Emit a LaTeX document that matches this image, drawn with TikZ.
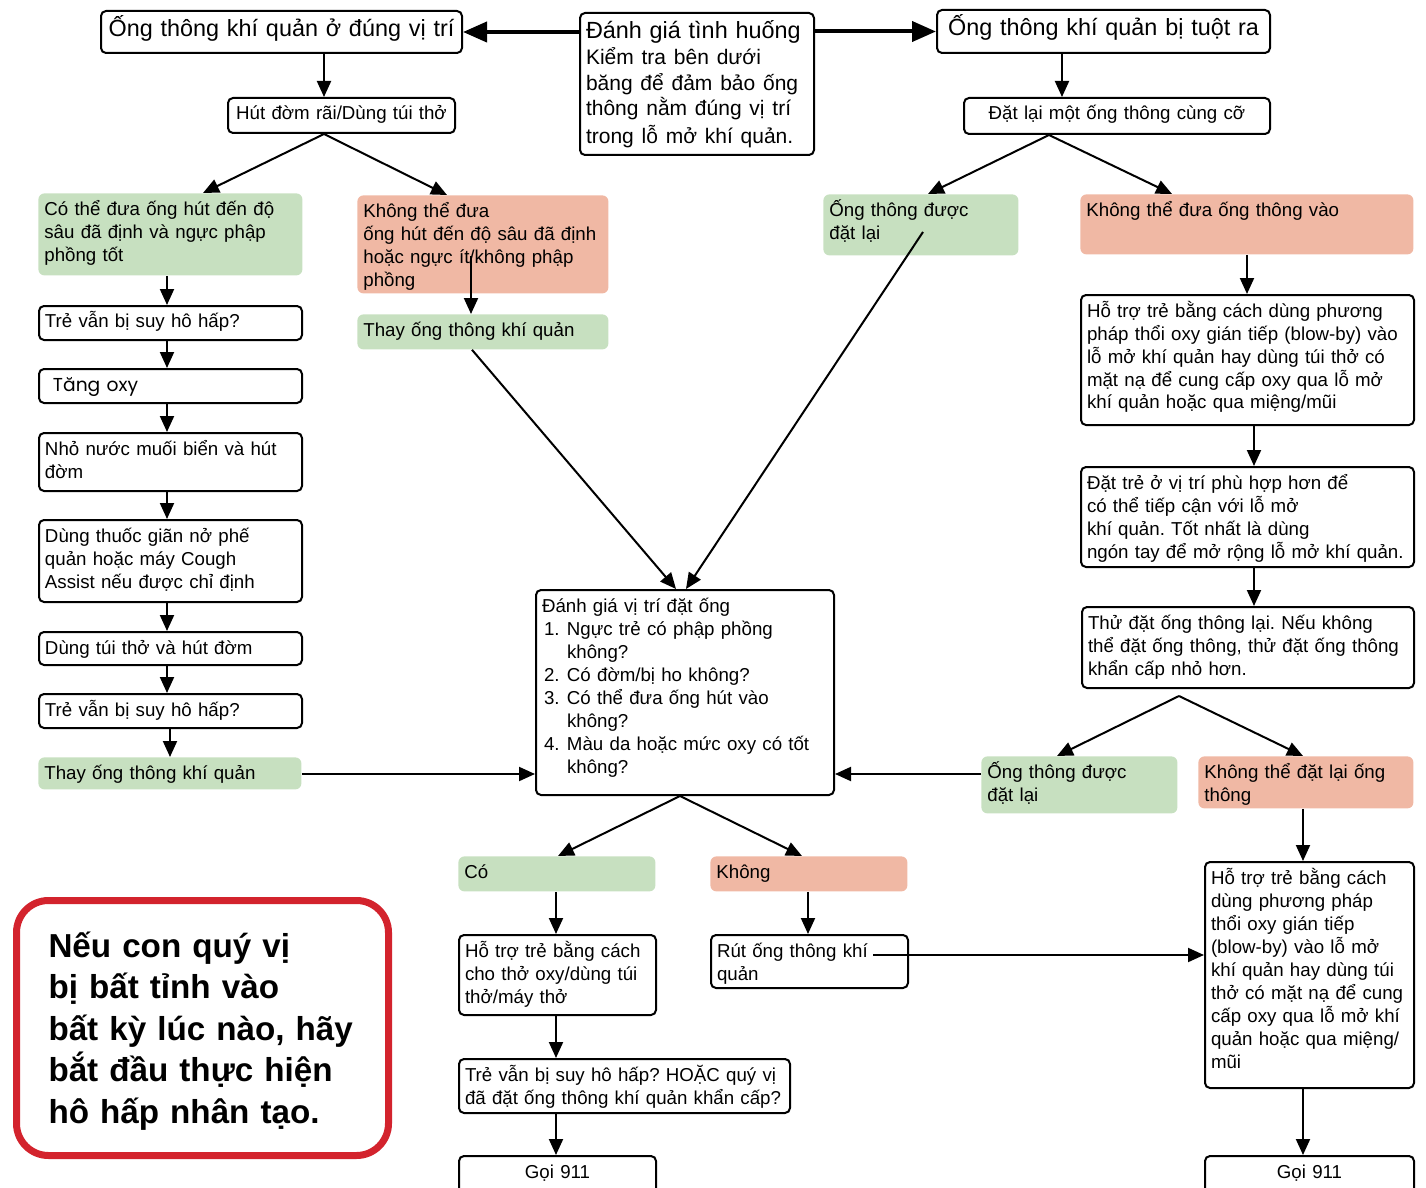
\documentclass[tikz,border=0pt]{standalone}
\usepackage{fontspec}
\setmainfont{Liberation Sans}
\newfontfamily\geofont{Poppins}
\usetikzlibrary{arrows.meta, calc}
\definecolor{okgreen}{RGB}{199,224,192}
\definecolor{badred}{RGB}{240,184,164}
\definecolor{alertred}{RGB}{211,35,45}
\newcommand{\numline}[2]{\hspace*{1pt}\makebox[11.5pt][l]{#1}#2}
\newcommand{\contline}[1]{\hspace*{12.5pt}#1}

\begin{document}
\begin{tikzpicture}[
    x=0.5pt, y=-0.5pt,
    every node/.style={anchor=north west, align=left, inner xsep=3pt, inner ysep=3pt,
        text height=8pt, font=\frenchspacing\fontsize{9.35}{11.5}\selectfont},
    wh/.style 2 args={minimum width=#1*0.5pt, text width=#1*0.5pt-6pt, text depth=#2*0.5pt-14pt},
    box/.style={draw=black, line width=1pt, rounded corners=2.5pt},
    okbox/.style={fill=okgreen, rounded corners=3pt},
    badbox/.style={fill=badred, rounded corners=3pt},
    head/.style={font=\frenchspacing\fontsize{11.7}{14}\selectfont, text height=10pt},
    link/.style={-{Triangle[length=8pt, width=7pt]}, line width=1pt},
    biglink/.style={-{Triangle[length=12pt, width=10pt]}, line width=2pt}
]
\useasboundingbox (0,0) rectangle (1426,1188);

% Top row
\node[box, wh={361}{42}, head, text depth=5pt, align=center] (hdrok) at (100,10) {Ống thông khí quản ở đúng vị trí};
\node[box, wh={234}{142}, head, text depth=55pt] (assess) at (579,12) {Đánh giá tình huống\\
    \fontsize{10.5}{12.8}\selectfont Kiểm tra bên dưới\\ băng để đảm bảo ống\\ thông nằm đúng vị trí\\ trong lỗ mở khí quản.};
\node[box, wh={333}{43}, head, text depth=5.5pt, align=center] (hdrout) at (936,9) {Ống thông khí quản bị tuột ra};

% Left branch
\node[box, wh={227}{35}, align=center] (suction) at (227,97) {Hút đờm rãi/Dùng túi thở};
\node[okbox, wh={264}{82}] (suctok) at (38,193) {Có thể đưa ống hút đến độ\\ sâu đã định và ngực phập\\ phồng tốt};
\node[badbox, wh={251}{98}] (suctbad) at (357,195) {Không thể đưa\\ ống hút đến độ sâu đã định\\ hoặc ngực ít/không phập\\ phồng};
\node[okbox, wh={251}{35}] (change1) at (357,314) {Thay ống thông khí quản};

\node[box, wh={263}{34}] (still1) at (38,305) {Trẻ vẫn bị suy hô hấp?};
\node[box, wh={263}{34}] (oxygen) at (38,368) {\hspace*{4pt}{\geofont Tăng oxy}};
\node[box, wh={263}{58}] (saline) at (38,432) {Nhỏ nước muối biển và hút\\ đờm};
\node[box, wh={263}{82}] (broncho) at (38,519) {Dùng thuốc giãn nở phế\\ quản hoặc máy Cough\\ Assist nếu được chỉ định};
\node[box, wh={263}{33}] (bagsuct) at (38,631) {Dùng túi thở và hút đờm};
\node[box, wh={263}{34}] (still2) at (38,693) {Trẻ vẫn bị suy hô hấp?};
\node[okbox, wh={263}{32}] (change2) at (38,757) {Thay ống thông khí quản};

% Right branch
\node[box, wh={306}{36}, align=center] (reinsert) at (963,97) {Đặt lại một ống thông cùng cỡ};
\node[okbox, wh={195}{61}] (tubein) at (823,194) {Ống thông được\\ đặt lại};
\node[badbox, wh={333}{60}] (tubefail) at (1080,194) {Không thể đưa ống thông vào};
\node[box, wh={333}{130}] (blowby1) at (1080,294) {Hỗ trợ trẻ bằng cách dùng phương\\ pháp thổi oxy gián tiếp (blow-by) vào\\ lỗ mở khí quản hay dùng túi thở có\\ mặt nạ để cung cấp oxy qua lỗ mở\\ khí quản hoặc qua miệng/mũi};
\node[box, wh={333}{100}] (position) at (1080,466) {Đặt trẻ ở vị trí phù hợp hơn để\\ có thể tiếp cận với lỗ mở\\ khí quản. Tốt nhất là dùng\\ ngón tay để mở rộng lỗ mở khí quản.};
\node[box, wh={332}{81}] (retry) at (1081,606) {Thử đặt ống thông lại. Nếu không\\ thể đặt ống thông, thử đặt ống thông\\ khẩn cấp nhỏ hơn.};
\node[okbox, wh={196}{57}] (placed) at (981,756) {Ống thông được\\ đặt lại};
\node[badbox, wh={215}{52}] (notplaced) at (1198,756) {Không thể đặt lại ống\\ thông};
\node[box, wh={209}{226}] (blowby2) at (1204,861) {Hỗ trợ trẻ bằng cách\\ dùng phương pháp\\ thổi oxy gián tiếp\\ (blow-by) vào lỗ mở\\ khí quản hay dùng túi\\ thở có mặt nạ để cung\\ cấp oxy qua lỗ mở khí\\ quản hoặc qua miệng/\\ mũi};
\node[box, wh={209}{60}, align=center] (call2) at (1204,1155) {Gọi 911};

% Centre
\node[box, wh={298}{205}] (evaluate) at (535,589) {Đánh giá vị trí đặt ống\\
    \numline{1.}{Ngực trẻ có phập phồng}\\ \contline{không?}\\
    \numline{2.}{Có đờm/bị ho không?}\\
    \numline{3.}{Có thể đưa ống hút vào}\\ \contline{không?}\\
    \numline{4.}{Màu da hoặc mức oxy có tốt}\\ \contline{không?}};
\node[okbox, wh={197}{35}] (yes) at (458,856) {Có};
\node[badbox, wh={197}{35}] (no) at (710,856) {Không};
\node[box, wh={197}{80}] (support) at (458,934) {Hỗ trợ trẻ bằng cách\\ cho thở oxy/dùng túi\\ thở/máy thở};
\node[box, wh={331}{54}] (still3) at (458,1058) {Trẻ vẫn bị suy hô hấp? HOẶC quý vị\\ đã đặt ống thông khí quản khẩn cấp?};
\node[box, wh={197}{60}, align=center] (call1) at (458,1155) {Gọi 911};
\node[box, wh={197}{53}] (remove) at (710,934) {Rút ống thông khí\\ quản};

% Warning
\node[draw=alertred, line width=3.5pt, rounded corners=16pt, minimum width=186pt,
    inner xsep=16pt, text width=154pt, text height=25.3pt, text depth=96.2pt,
    font=\frenchspacing\bfseries\fontsize{16.6}{20.75}\selectfont] (cpr) at (13,897)
    {Nếu con quý vị\\ bị bất tỉnh vào\\ bất kỳ lúc nào, hãy\\ bắt đầu thực hiện\\ hô hấp nhân tạo.};

% Connector positions
\coordinate (xa) at (324,0);
\coordinate (xf) at (203,0);
\coordinate (xg) at (447,0);
\coordinate (gtail) at (471,256);
\coordinate (xh) at (472,0);
\coordinate (xj1) at (676,0);
\coordinate (xj2) at (686,0);
\coordinate (ktail) at (923,232);
\coordinate (xc) at (1062,0);
\coordinate (xe) at (1049,0);
\coordinate (xk) at (928,0);
\coordinate (xl) at (1172,0);
\coordinate (xm) at (1247,0);
\coordinate (xn) at (1254,0);
\coordinate (oapex) at (1179,696);
\coordinate (xp) at (1057,0);
\coordinate (xq) at (1303,0);
\coordinate (ymid) at (0,774);
\coordinate (xleft) at (167,0);
\coordinate (xleft2) at (170,0);
\coordinate (xapex) at (680,0);
\coordinate (xu) at (558,0);
\coordinate (xv) at (802,0);
\coordinate (xw) at (556,0);
\coordinate (xz) at (808,0);
\coordinate (ztail) at (873,955);

% Top arrows
\draw[biglink] (assess.west |- hdrok.east) -- (hdrok.east);
\draw[biglink] (assess.east |- hdrout.west) -- (hdrout.west);

% Left branch arrows
\draw[link] (xa |- hdrok.south) -- (xa |- suction.north);
\draw[link] (xa |- suction.south) -- (xf |- suctok.north);
\draw[link] (xa |- suction.south) -- (xg |- suctbad.north);
\draw[link] (gtail) -- (gtail |- change1.north);
\draw[link] (xh |- change1.south) -- (xj1 |- evaluate.north);
\draw[link] (xleft |- suctok.south) -- (xleft |- still1.north);
\draw[link] (xleft |- still1.south) -- (xleft |- oxygen.north);
\draw[link] (xleft |- oxygen.south) -- (xleft |- saline.north);
\draw[link] (xleft |- saline.south) -- (xleft |- broncho.north);
\draw[link] (xleft |- broncho.south) -- (xleft |- bagsuct.north);
\draw[link] (xleft |- bagsuct.south) -- (xleft |- still2.north);
\draw[link] (xleft2 |- still2.south) -- (xleft2 |- change2.north);
\draw[link] (change2.east |- ymid) -- (evaluate.west |- ymid);

% Right branch arrows
\draw[link] (xc |- hdrout.south) -- (xc |- reinsert.north);
\draw[link] (xe |- reinsert.south) -- (xk |- tubein.north);
\draw[link] (xe |- reinsert.south) -- (xl |- tubefail.north);
\draw[link] (ktail) -- (xj2 |- evaluate.north);
\draw[link] (xm |- tubefail.south) -- (xm |- blowby1.north);
\draw[link] (xn |- blowby1.south) -- (xn |- position.north);
\draw[link] (xn |- position.south) -- (xn |- retry.north);
\draw[link] (oapex) -- (xp |- placed.north);
\draw[link] (oapex) -- (xq |- notplaced.north);
\draw[link] (placed.west |- ymid) -- (evaluate.east |- ymid);
\draw[link] (xq |- notplaced.south) -- (xq |- blowby2.north);
\draw[link] (xq |- blowby2.south) -- (xq |- call2.north);

% Bottom arrows
\draw[link] (xapex |- evaluate.south) -- (xu |- yes.north);
\draw[link] (xapex |- evaluate.south) -- (xv |- no.north);
\draw[link] (xw |- yes.south) -- (xw |- support.north);
\draw[link] (xw |- support.south) -- (xw |- still3.north);
\draw[link] (xw |- still3.south) -- (xw |- call1.north);
\draw[link] (xz |- no.south) -- (xz |- remove.north);
\draw[link] (ztail) -- (blowby2.west |- ztail);
\end{tikzpicture}
\end{document}
